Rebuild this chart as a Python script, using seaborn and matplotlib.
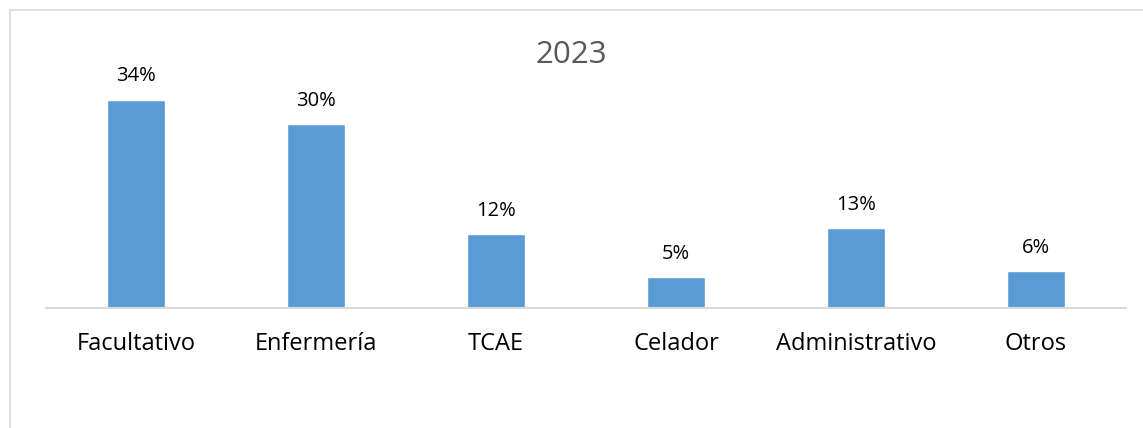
import matplotlib
matplotlib.use("Agg")
import matplotlib.pyplot as plt
import matplotlib.patches as patches
import seaborn as sns
import pandas as pd

categories = ["Facultativo", "Enfermería", "TCAE", "Celador", "Administrativo", "Otros"]
values = [34, 30, 12, 5, 13, 6]
title = "2023"

sns.set_theme(style="white")
plt.rcParams["font.family"] = ["Open Sans", "DejaVu Sans"]

df = pd.DataFrame({"cat": categories, "val": values})

W, H = 1143, 428
fig = plt.figure(figsize=(W / 100, H / 100), dpi=100)
ax = fig.add_axes([46 / W, (H - 308) / H, 1080 / W, (308 - 62.8) / H])

sns.barplot(data=df, x="cat", y="val", color="#5B9BD5", width=0.32,
            saturation=1, ax=ax)

ax.set_ylim(0, 40)
ax.set_xlim(-0.5, len(categories) - 0.5)
ax.set_xlabel("")
ax.set_ylabel("")
ax.set_yticks([])
ax.tick_params(axis="x", length=0, pad=17, labelsize=17, labelcolor="#000000")
for s in ["top", "left", "right"]:
    ax.spines[s].set_visible(False)
ax.spines["bottom"].set_color("#D9D9D9")
ax.spines["bottom"].set_linewidth(1.5)

for i, v in enumerate(values):
    ax.text(i, v + 2.2, f"{v}%", ha="center", va="bottom", fontsize=14.5,
            fontstretch="normal", color="#000000")

fig.text(0.5, 1 - 55 / H, title, ha="center", va="center", fontsize=22.5,
         color="#595959")

border = patches.Rectangle((10 / W, -0.1), 1.2, 1 - 10 / H + 0.1,
                           transform=fig.transFigure, fill=False,
                           edgecolor="#D9D9D9", linewidth=1.2, clip_on=False)
fig.patches.append(border)

fig.savefig("out.png", dpi=100)
